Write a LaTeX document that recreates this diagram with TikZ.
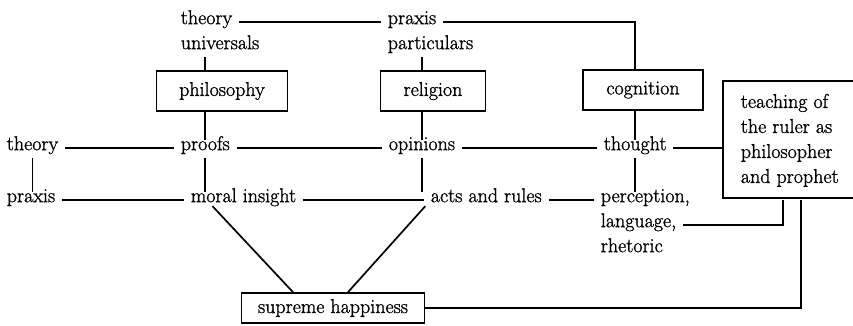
\documentclass[tikz,border=0pt]{standalone}
\usepackage{fontspec}
\setmainfont{Latin Modern Roman}[FakeBold=1.2]
\usetikzlibrary{calc}
\begin{document}
\begin{tikzpicture}[x=1pt,y=-1pt,
  line width=1.7pt,
  every node/.style={font=\fontsize{20}{25}\selectfont},
  txt/.style={inner xsep=0pt, inner ysep=3pt, text height=2ex, text depth=0.5ex, anchor=mid west},
  boxnode/.style={draw, line width=1.7pt, inner sep=0pt, minimum height=40pt},
  hline/.style={shorten <=6pt, shorten >=6pt},
  hlineL/.style={shorten <=6pt}]
\useasboundingbox (0,0) rectangle (853,325);
\clip (0,0) rectangle (853,325);
% row 0/1 top
\node[txt] (theoryA) at (180,22) {theory};
\node[txt] (praxisA) at (387,22) {praxis};
\node[txt] (universals) at (180,47) {universals};
\node[txt] (particulars) at (387,47) {particulars};
% boxes
\node[boxnode, minimum width=131pt] (philosophy) at (222,91) {philosophy};
\node[boxnode, minimum width=105pt] (religion) at (433,91) {religion};
\node[boxnode, minimum width=120pt] (cognition) at (643,90) {cognition};
% row 2
\node[txt] (theoryB) at (6,148) {theory};
\node[txt] (proofs) at (180,148) {proofs};
\node[txt] (opinions) at (388,148) {opinions};
\node[txt] (thought) at (603,148) {thought};
% row 3
\node[txt] (praxisB) at (6,200) {praxis};
\node[txt] (moral) at (190,200) {moral insight};
\node[txt] (acts) at (430,200) {acts and rules};
\node[txt] (perception) at (600,200) {perception,};
\node[txt] (language) at (600,225) {language,};
\node[txt] (rhetoric) at (600,250) {rhetoric};
% teaching box (its right side lies beyond the picture: only three sides drawn)
\node[anchor=north west, minimum height=117pt, minimum width=120pt,
      inner xsep=17pt, inner ysep=0pt, align=left,
      font=\fontsize{20}{25}\selectfont] (teach) at (723,81)
  {teaching of\\the ruler as\\philosopher\\and prophet};
\coordinate (teachNE) at (860,81);
\coordinate (teachSE) at (860,198);
\draw (teachNE) -- (teachNE -| teach.west) -- (teachSE -| teach.west) -- (teachSE);
% supreme happiness
\node[boxnode, minimum width=183pt, minimum height=30pt] (happy) at (333,308) {supreme happiness};

% connectors top
\draw[hline] (theoryA.mid east) -- (praxisA.mid west);
\draw[hlineL] (praxisA.mid east) -- (praxisA.mid east -| thought.north) -- (cognition.north -| thought.north);
\draw ([yshift=-2pt]universals.south -| proofs.north) -- (philosophy.north -| proofs.north);
\draw ([yshift=-2pt]particulars.south -| opinions.north) -- (religion.north -| opinions.north);
\draw (philosophy.south -| proofs.north) -- ([yshift=-2pt]proofs.north);
\draw (religion.south -| opinions.north) -- ([yshift=-2pt]opinions.north);
\draw (cognition.south -| thought.north) -- ([yshift=-2pt]thought.north);
% row 2 horizontals
\draw[hline] (theoryB.mid east) -- (proofs.mid west);
\draw[hline] (proofs.mid east) -- (opinions.mid west);
\draw[hline] (opinions.mid east) -- (thought.mid west);
\draw[hlineL] (thought.mid east) -- (thought.mid east -| teach.west);
% verticals row 2 -> row 3
\draw ([yshift=-2pt]theoryB.south) -- ([yshift=-2pt]praxisB.north -| theoryB.south);
\draw ([yshift=-2pt]proofs.south) -- ([yshift=-2pt]moral.north -| proofs.south);
\draw ([yshift=-2pt]opinions.south) -- ([yshift=-2pt]acts.north -| opinions.south);
\draw ([yshift=-2pt]thought.south) -- ([yshift=-2pt]perception.north -| thought.south);
% row 3 horizontals
\draw[hline] (praxisB.mid east) -- (moral.mid west);
\draw[hline] (moral.mid east) -- (acts.mid west);
\draw[hline] (acts.mid east) -- (perception.mid west);
\draw[hlineL] (language.mid east) -| ([xshift=60pt]teach.south west);
% diagonals
\draw ([xshift=-31pt,yshift=2pt]moral.south) -- ([xshift=-40pt]happy.north);
\draw ([xshift=-61pt,yshift=2pt]acts.south) -- ([xshift=15pt]happy.north);
% happiness to teaching
\draw (happy.east) -| ([xshift=78pt]teach.south west);
\end{tikzpicture}
\end{document}
